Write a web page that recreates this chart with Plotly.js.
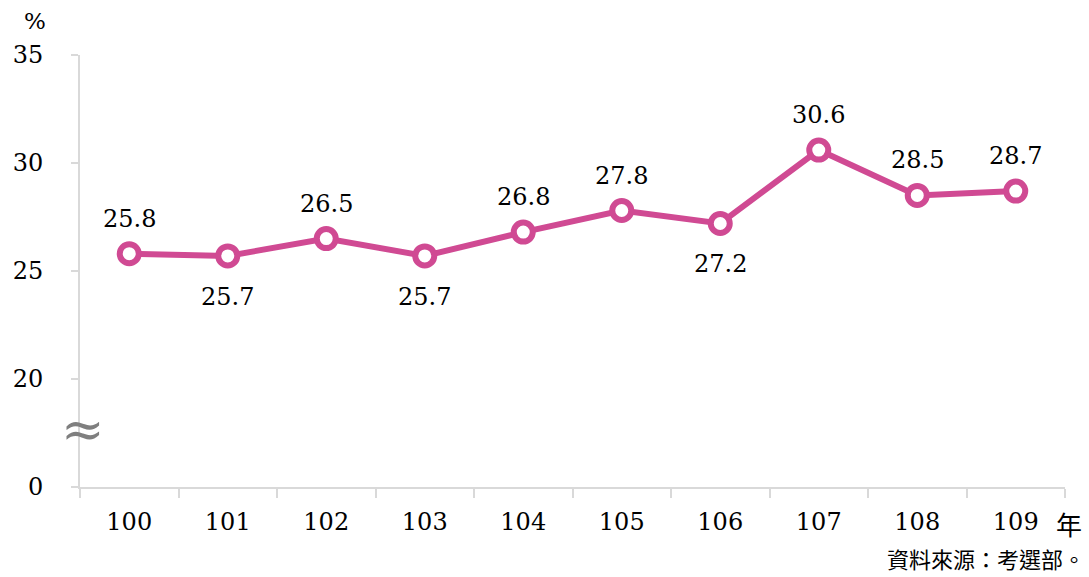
<!DOCTYPE html>
<html><head><meta charset="utf-8">
<script src="https://cdn.plot.ly/plotly-3.0.1.min.js"></script>
<style>html,body{margin:0;padding:0;background:#fff}#c{width:1089px;height:577px}</style>
</head><body><div id="c"></div>
<script>
const years = ['100','101','102','103','104','105','106','107','108','109'];
const values = [25.8, 25.7, 26.5, 25.7, 26.8, 27.8, 27.2, 30.6, 28.5, 28.7];
const labelSide = ['above','below','above','below','above','above','below','above','above','above'];
const yTickVals = [15, 20, 25, 30, 35];
const yTickText = ['0', '20', '25', '30', '35'];
const pink = '#d04a93';
const serif = 'DejaVu Serif';

const trace = {
  x: years, y: values, type: 'scatter', mode: 'lines+markers',
  line: {color: pink, width: 6},
  marker: {size: 19, color: '#fff', line: {color: pink, width: 6}},
  cliponaxis: false, hoverinfo: 'none'
};

// category index positions (the category axis maps index i to years[i])
const valueLabels = values.map((v, i) => ({
  text: v.toFixed(1), x: i, y: v, xref: 'x', yref: 'y',
  xanchor: 'center', yanchor: 'middle', showarrow: false,
  yshift: labelSide[i] === 'above' ? 35 : -41,
  font: {family: serif, size: 24, color: '#000'}
}));

const layout = {
  width: 1089, height: 577,
  margin: {l: 80, r: 24, t: 55, b: 90},
  font: {family: serif, size: 24, color: '#000'},
  paper_bgcolor: '#fff', plot_bgcolor: '#fff',
  showlegend: false,
  xaxis: {
    type: 'category', categoryarray: years, range: [-0.5, 9.5], tickson: 'boundaries',
    ticks: 'outside', ticklen: 9, tickcolor: '#d9d9d9', tickwidth: 2,
    showline: true, linecolor: '#d9d9d9', linewidth: 2,
    showgrid: false, zeroline: false, ticklabelstandoff: 12,
    tickfont: {family: serif, size: 24, color: '#000'}
  },
  yaxis: {
    range: [15, 35], tickvals: yTickVals, ticktext: yTickText,
    ticks: 'outside', ticklen: 7, tickcolor: '#d9d9d9', tickwidth: 2,
    showline: true, linecolor: '#d9d9d9', linewidth: 2,
    showgrid: false, zeroline: false, ticklabelstandoff: 23,
    tickfont: {family: serif, size: 24, color: '#000'}
  },
  annotations: valueLabels.concat([
    {text: '%', xref: 'paper', yref: 'paper', x: 0, xanchor: 'center', xshift: -45, y: 1.0, yanchor: 'middle', yshift: 34, showarrow: false,
     font: {family: serif, size: 23, color: '#000'}},
    {text: '≈', xref: 'paper', yref: 'y', x: 0, xanchor: 'center', xshift: 3, y: 17.7, yanchor: 'middle', showarrow: false,
     font: {family: serif, size: 52, color: '#7f7f7f'}},
    {text: '年', xref: 'paper', yref: 'paper', x: 1.0, xanchor: 'left', xshift: -11, y: 0, yanchor: 'middle', yshift: -36, showarrow: false,
     font: {family: 'Noto Sans CJK TC', size: 26, color: '#000'}},
    {text: '資料來源：考選部。', xref: 'paper', yref: 'paper', x: 1.0, xanchor: 'right', xshift: 22, y: 0, yanchor: 'middle', yshift: -71, showarrow: false,
     font: {family: 'Noto Sans CJK TC', size: 22, color: '#000'}}
  ])
};

Plotly.newPlot('c', [trace], layout, {staticPlot: true, displayModeBar: false});
</script></body></html>
